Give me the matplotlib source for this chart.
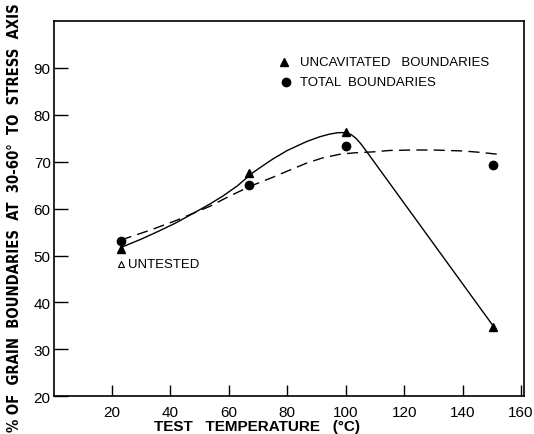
import numpy as np
import matplotlib.pyplot as plt

plt.rcParams['font.family'] = ['Liberation Sans', 'DejaVu Sans']

# ==========================
# data
# ==========================

temp = [23, 67, 100, 150.5]
uncavitated = [51.5, 67.5, 76.3, 34.7]
total = [53.0, 65.0, 73.4, 69.2]

untested_t = [23]
untested_v = [48.3]

# hand-drawn fit lines
solid_x = [23, 30, 36, 42, 47.8, 53, 58, 63, 67.8, 72, 75.1, 80, 86.6, 91,
           94.5, 97.5, 99.8, 101.8, 103.5, 105.2, 107, 150.8]
solid_y = [51.7, 53.5, 55.2, 57.0, 59.0, 60.8, 62.7, 64.9, 67.5, 69.3, 70.6,
           72.4, 74.3, 75.3, 75.9, 76.2, 76.2, 75.8, 75.0, 73.8, 72.3, 34.7]

dash_x = [23, 33, 42.1, 47, 53.5, 60, 67.8, 75.1, 80, 86.6, 92, 98, 103,
          109.3, 115, 123, 130, 140, 146, 152]
dash_y = [53.3, 55.4, 57.5, 58.8, 60.5, 62.6, 64.9, 66.7, 68.0, 69.7, 70.8,
          71.6, 71.9, 72.1, 72.4, 72.5, 72.5, 72.3, 72.0, 71.6]

x_ticks = [20, 40, 60, 80, 100, 120, 140, 160]
x_labels = ["20", "40", "60", "80", "100", "120", "140", "160"]
y_ticks = [20, 30, 40, 50, 60, 70, 80, 90]

# ==========================
# figure
# ==========================

fig = plt.figure(figsize=(5.34, 4.35), dpi=100)
W, H = 534, 435
ax = fig.add_axes([53.5 / W, 1 - 397.3 / H, (524 - 53.5) / W, (397.3 - 22) / H])

ax.plot(solid_x, solid_y, color="black", lw=1.0)
ax.plot(dash_x, dash_y, color="black", lw=1.0, dashes=(8, 4.5))

ax.plot(temp, uncavitated, linestyle="none", marker="^", ms=6, color="black")
ax.plot(temp, total, linestyle="none", marker="o", ms=6, color="black")
ax.plot(untested_t, untested_v, linestyle="none", marker="^", ms=4,
        markerfacecolor="white", markeredgecolor="black", markeredgewidth=0.8)
ax.text(25.4, 48.3, "UNTESTED", fontsize=9.5, va="center", ha="left")

# legend drawn by hand like the original
ax.plot([79], [91.3], marker="^", ms=6, color="black", linestyle="none")
ax.plot([79.4], [87.0], marker="o", ms=6, color="black", linestyle="none")
ax.text(84.3, 91.3, "UNCAVITATED   BOUNDARIES", fontsize=9.5, va="center")
ax.text(84.3, 87.0, "TOTAL  BOUNDARIES", fontsize=9.5, va="center")

ax.set_xlim(0, 161)
ax.set_ylim(20, 100)
ax.set_xticks(x_ticks)
ax.set_xticklabels(x_labels)
ax.set_yticks(y_ticks)

ax.tick_params(axis="x", direction="in", length=8, width=1, labelsize=11, pad=6)
ax.tick_params(axis="y", direction="in", length=10, width=1, labelsize=11, pad=2)
for s in ax.spines.values():
    s.set_linewidth(1.2)

fig.text(257 / W, 1 - 427 / H, "TEST   TEMPERATURE   (\u00b0C)",
         fontsize=11, fontweight="bold", ha="center", va="center")
fig.text(15 / W, 0.5, "% OF  GRAIN  BOUNDARIES  AT  30-60\u00b0  TO  STRESS  AXIS",
         fontsize=10.6, fontweight="bold", rotation=90, ha="center", va="center",
         family="DejaVu Sans", fontstretch="condensed")

fig.savefig("out.png", dpi=100)
